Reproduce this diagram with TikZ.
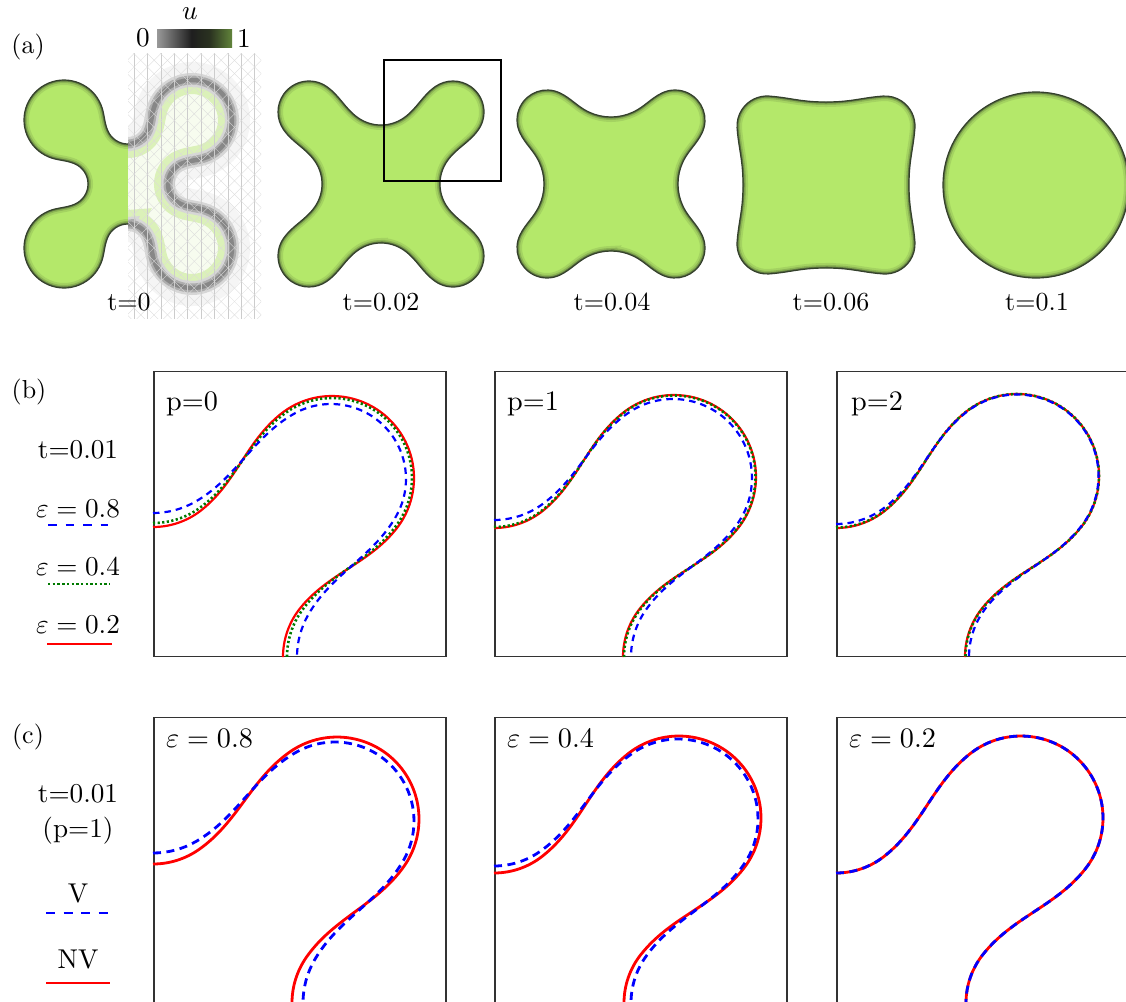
\documentclass[tikz,border=0pt]{standalone}
\usepackage{tikz}
\usepackage{graphicx}
\definecolor{blobgreen}{HTML}{B4E86A}
\definecolor{edgedark}{HTML}{34402C}
\definecolor{edgegreen}{HTML}{4A6030}
\definecolor{bandgreen}{HTML}{D2EDA8}
\definecolor{dgreen}{HTML}{007A00}
\definecolor{bargreen}{HTML}{A8DC62}
\definecolor{barmid}{HTML}{74A044}
\definecolor{bardark}{HTML}{2A3220}
\pgfdeclarehorizontalshading{ubar}{100bp}{color(0bp)=(black!6); color(25bp)=(black!40); color(48bp)=(black!88); color(60bp)=(bardark); color(80bp)=(barmid); color(100bp)=(bargreen)}

% lobe construction: n = notch distance, R = notch radius, c = lobe centre (c,c), r = lobe radius,
% D = shortening of the arcs (deg), k = control length factor of the S-bend
\newcommand\lobecalc[6]{%
  \pgfmathsetmacro\Qn{#1}\pgfmathsetmacro\QR{#2}\pgfmathsetmacro\Qc{#3}\pgfmathsetmacro\Qr{#4}%
  \pgfmathsetmacro\Qdy{\Qc-\Qn-\QR}%
  \pgfmathsetmacro\Qdl{100*veclen(\Qc/100,\Qdy/100)}%
  \pgfmathsetmacro\Qth{atan2(\Qdy,\Qc)-acos(min(1,(\QR+\Qr)/\Qdl))}%
  \pgfmathsetmacro\QAa{\Qth-#5}%
  \pgfmathsetmacro\QAb{\Qth+180-#5}%
  \pgfmathsetmacro\QAc{90-(\QAb)}%
  \pgfmathsetmacro\QAd{90-(\QAa)}%
  \pgfmathsetmacro\Xa{\QR*cos(\QAa)}\pgfmathsetmacro\Ya{\Qn+\QR+\QR*sin(\QAa)}%
  \pgfmathsetmacro\Xb{\Qc+\Qr*cos(\QAb)}\pgfmathsetmacro\Yb{\Qc+\Qr*sin(\QAb)}%
  \pgfmathsetmacro\QL{100*veclen((\Xb-\Xa)/100,(\Yb-\Ya)/100)}%
  \pgfmathsetmacro\Xc{\Xa+#6*\QL*cos(\QAa+90)}\pgfmathsetmacro\Yc{\Ya+#6*\QL*sin(\QAa+90)}%
  \pgfmathsetmacro\Xd{\Xb-#6*\QL*cos(\QAa+90)}\pgfmathsetmacro\Yd{\Yb-#6*\QL*sin(\QAa+90)}%
  \pgfmathsetmacro\pPa{atan2(\Ya,\Xa)}\pgfmathsetmacro\rPa{100*veclen(\Xa/100,\Ya/100)}%
  \pgfmathsetmacro\pPb{atan2(\Yb,\Xb)}\pgfmathsetmacro\rPb{100*veclen(\Xb/100,\Yb/100)}%
  \pgfmathsetmacro\pCa{atan2(\Yc,\Xc)}\pgfmathsetmacro\rCa{100*veclen(\Xc/100,\Yc/100)}%
  \pgfmathsetmacro\pCb{atan2(\Yd,\Xd)}\pgfmathsetmacro\rCb{100*veclen(\Xd/100,\Yd/100)}%
  \pgfmathsetmacro\sPa{90-(\pPa)}\pgfmathsetmacro\sCa{90-(\pCa)}\pgfmathsetmacro\sCb{90-(\pCb)}%
}
\def\qseg#1{%
 arc[start angle=-90-#1, end angle=\QAa-#1, radius=\QR]
 .. controls ({\pCa-#1}:\rCa) and ({\pCb-#1}:\rCb) .. ({\pPb-#1}:\rPb)
 arc[start angle=\QAb-#1, end angle=\QAc-#1, radius=\Qr]
 .. controls ({\sCb-#1}:\rCb) and ({\sCa-#1}:\rCa) .. ({\sPa-#1}:\rPa)
 arc[start angle=\QAd-#1, end angle=180-#1, radius=\QR]}
\def\qpath{(0,\Qn) \qseg{0}}
\def\blobpath{(90:\Qn) \qseg{0} \qseg{90} \qseg{180} \qseg{270} -- cycle}
\newcommand\qcurve[7][]{\lobecalc{#2}{#3}{#4}{#5}{#6}{#7}\draw[#1] \qpath;}
\newcommand\greenshape[1]{%
  \fill[blobgreen] #1;
  \begin{scope}\clip #1;
    \draw[edgegreen, line width=10, opacity=.15] #1;
    \draw[edgegreen, line width=6, opacity=.26] #1;
    \draw[edgedark, line width=3, opacity=.5] #1;
  \end{scope}
  \draw[edgedark, line width=1.2] #1;}
\newcommand\szA[1]{\scalebox{2.6}{#1}}
\newcommand\szB[1]{\scalebox{2.72}{#1}}
\newcommand\szC[1]{\scalebox{2.82}{#1}}

\tikzset{
  lbl/.style={inner sep=0pt},
  lgd/.style={inner sep=0pt, anchor=base},
  plbl/.style={inner sep=0pt, anchor=base west},
  panelbox/.style={draw=black!80, line width=1.5, minimum width=292pt, minimum height=285pt, anchor=south west, inner sep=0pt},
  redl/.style={red, line width=2.2},
  bluel/.style={blue, line width=2.2, dash pattern=on 6.5pt off 5pt},
  greenl/.style={dgreen, line width=2.6, dash pattern=on 2.2pt off 2.4pt},
  redc/.style={red, line width=2.8},
  bluec/.style={blue, line width=2.8, dash pattern=on 8pt off 5.5pt},
}

\begin{document}
\begin{tikzpicture}[x=1pt, y=-1pt]
\useasboundingbox (0,0) rectangle (1126,1001);
\fill[white] (0,0) rectangle (1126,1001);

% ---------------- panel (a) ----------------
\node[lbl] (la) at (28,47) {\szA{(a)}};
% colorbar
\shade[shading=ubar] (157,29) rectangle (232,47);
\node[lbl] (cu) at (190,14) {\szB{$u$}};
\node[lbl] (c0) at (143,38) {\szB{0}};
\node[lbl] (c1) at (244,38) {\szB{1}};

% t=0: left half green
\begin{scope}
  \clip (0,50) rectangle (128,330);
  \begin{scope}[shift={(128,184)}]
    \lobecalc{40}{22}{64}{40}{10}{0.36}
    \greenshape{\blobpath}
  \end{scope}
\end{scope}
% t=0: right half mesh view
\begin{scope}
  \clip (128,53) rectangle (261,318);
  \begin{scope}[shift={(128,184)}]
    \lobecalc{40}{22}{64}{40}{10}{0.36}
    \draw[line width=36, black!4] \blobpath;
    \fill[bandgreen!18] \blobpath;
    \begin{scope}\clip \blobpath; \draw[line width=28, bandgreen!80] \blobpath; \end{scope}
    \draw[line width=14, black!16] \blobpath;
    \draw[line width=9, black!32] \blobpath;
    \draw[line width=4.5, black!47] \blobpath;
  \end{scope}
  \draw[black!20, line width=0.35, step=13.4] (120,40) grid (270,330);
  \foreach \m in {-16,...,45}{
    \draw[black!14, line width=0.3] ({13.4*\m},0) -- ({13.4*\m+400},400);
    \draw[black!14, line width=0.3] ({13.4*\m},0) -- ({13.4*\m-400},400);
  }
\end{scope}
\node[lbl, anchor=base] (t0) at (129,310) {\szA{t=0}};

% t=0.02
\begin{scope}[shift={(381,184)}]
  \lobecalc{59}{40}{72}{31}{12}{0.36}
  \greenshape{\blobpath}
\end{scope}
\draw[black, line width=1.5] (384,60) rectangle (501,181);
\node[lbl, anchor=base] (t1) at (381,310) {\szA{t=0.02}};

% t=0.04
\begin{scope}[shift={(611,184)}]
  \lobecalc{67}{52}{64}{30}{10}{0.36}
  \greenshape{\blobpath}
\end{scope}
\node[lbl, anchor=base] (t2) at (612,310) {\szA{t=0.04}};

% t=0.06
\begin{scope}[shift={(826,185)}]
  \lobecalc{83}{200}{59}{30}{4}{0.36}
  \greenshape{\blobpath}
\end{scope}
\node[lbl, anchor=base] (t3) at (831,310) {\szA{t=0.06}};

% t=0.1
\begin{scope}[shift={(1036,185)}]
  \greenshape{(0,0) circle[radius=93]}
\end{scope}
\node[lbl, anchor=base] (t4) at (1037,310) {\szA{t=0.1}};

% ---------------- panel (b) ----------------
\node[lbl] (lb) at (29,392) {\szA{(b)}};
\node[lgd] (bt) at (78,458) {\szB{t=0.01}};
\node[lgd] (be8) at (78,517) {\szB{$\varepsilon = 0.8$}};
\draw[bluel, dash pattern=on 8.5pt off 9pt] (48,525) -- (108,525);
\node[lgd] (be4) at (78,575) {\szB{$\varepsilon = 0.4$}};
\draw[greenl, dash pattern=on 2.4pt off 2.3pt] (48,584) -- (110,584);
\node[lgd] (be2) at (78,633) {\szB{$\varepsilon = 0.2$}};
\draw[redl] (47,644) -- (112,644);

\node[panelbox] (b1) at (153,657) {};
\node[panelbox] (b2) at (494,657) {};
\node[panelbox] (b3) at (836,657) {};
\node[plbl] (pb1) at (166,410) {\szC{p=0}};
\node[plbl] (pb2) at (507,410) {\szC{p=1}};
\node[plbl] (pb3) at (851,410) {\szC{p=2}};

\begin{scope}[shift={(153,657)}, yscale=-1]
  \qcurve[redl]{130}{78}{179}{82}{14}{0.36}
  \qcurve[greenl]{134}{80}{179}{80}{14}{0.36}
  \qcurve[bluel]{144}{85}{178}{75}{14}{0.36}
\end{scope}
\begin{scope}[shift={(494,657)}, yscale=-1]
  \qcurve[redl]{129}{78}{180}{82}{14}{0.36}
  \qcurve[greenl]{130}{78}{180}{81.5}{14}{0.36}
  \qcurve[bluel]{137}{82}{179}{79}{14}{0.36}
\end{scope}
\begin{scope}[shift={(836,657)}, yscale=-1]
  \qcurve[redl]{129}{78}{181}{82}{14}{0.36}
  \qcurve[greenl]{129.5}{78}{181}{82}{14}{0.36}
  \qcurve[bluel]{133}{80}{181}{81.5}{14}{0.36}
\end{scope}

% ---------------- panel (c) ----------------
\node[lbl] (lc) at (28,737) {\szA{(c)}};
\node[lgd] (ct) at (78,802) {\szB{t=0.01}};
\node[lgd] (cp) at (78,837) {\szB{(p=1)}};
\node[lgd] (cv) at (78,902) {\szB{V}};
\draw[bluec, dash pattern=on 9pt off 8.5pt] (46,913) -- (108,913);
\node[lgd] (cnv) at (78,968) {\szB{NV}};
\draw[redc] (46,983) -- (110,983);

\node[panelbox] (c1b) at (153,1003) {};
\node[panelbox] (c2b) at (494,1003) {};
\node[panelbox] (c3b) at (836,1003) {};
\node[plbl] (pc1) at (166,747) {\szC{$\varepsilon = 0.8$}};
\node[plbl] (pc2) at (507,747) {\szC{$\varepsilon = 0.4$}};
\node[plbl] (pc3) at (849,747) {\szC{$\varepsilon = 0.2$}};

\begin{scope}[shift={(153,1003)}, yscale=-1]
  \qcurve[redc]{139}{80}{184}{82}{14}{0.36}
  \qcurve[bluec]{150}{86}{182}{79}{14}{0.36}
\end{scope}
\begin{scope}[shift={(494,1003)}, yscale=-1]
  \qcurve[redc]{130}{78}{185}{82}{14}{0.36}
  \qcurve[bluec]{137}{80}{184}{80}{14}{0.36}
\end{scope}
\begin{scope}[shift={(836,1003)}, yscale=-1]
  \qcurve[redc]{130}{78}{185}{82}{14}{0.36}
  \qcurve[bluec]{130}{78}{185}{82}{14}{0.36}
\end{scope}
\end{tikzpicture}
\end{document}
